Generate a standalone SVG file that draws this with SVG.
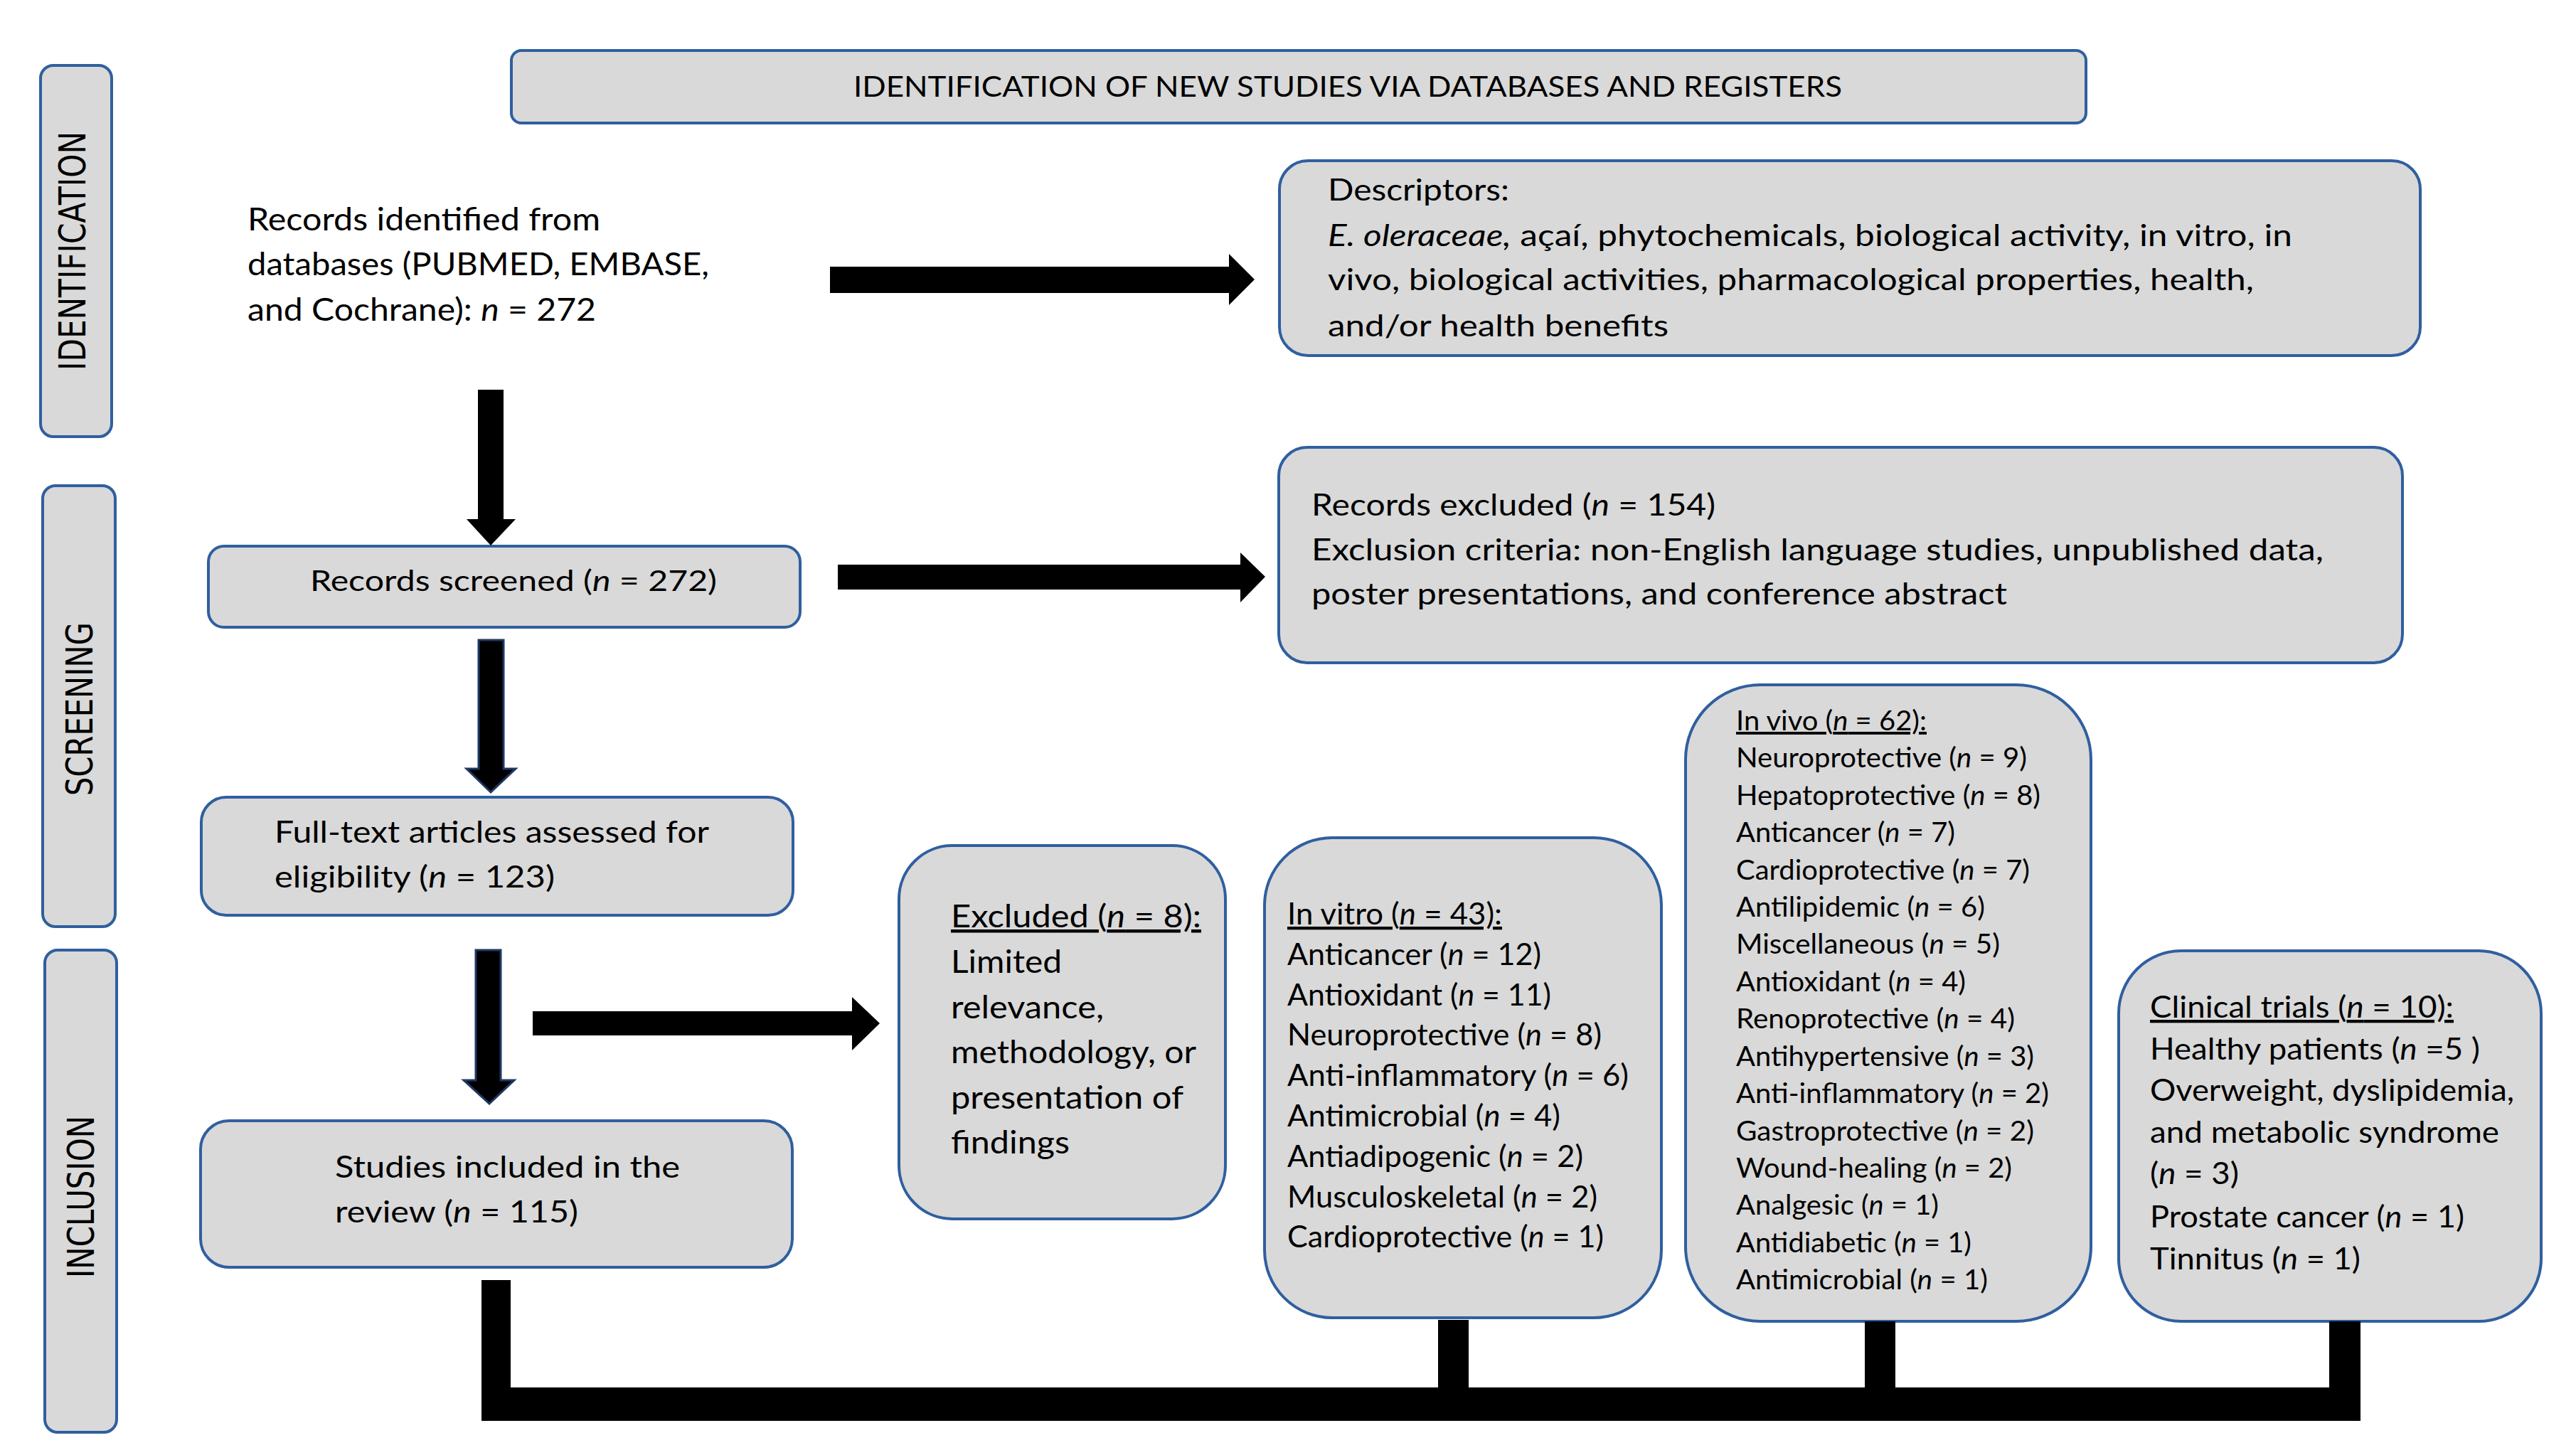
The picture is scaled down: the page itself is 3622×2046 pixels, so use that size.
<svg xmlns="http://www.w3.org/2000/svg" width="3622" height="2046" viewBox="0 0 3622 2046">
<style>
.box{fill:#d9d9d9;stroke:#2f5f9f;stroke-width:4}
text{font-family:Lato,"Liberation Sans",Arial,sans-serif;fill:#000}
.side{font-family:"DejaVu Sans","Liberation Sans",sans-serif;font-size:52px;text-anchor:middle}
.it{font-style:italic}
.ul{text-decoration:underline}
.arr{fill:#000}
.arrb{fill:#000;stroke:#1f3864;stroke-width:3}
</style>
<rect width="3622" height="2046" fill="#fff"/>

<g id="side-identification">
<rect class="box" x="57" y="92" width="100" height="522" rx="18"/>
<text class="side" transform="translate(120,353) rotate(-90)" textLength="336" lengthAdjust="spacingAndGlyphs">IDENTIFICATION</text>
</g>
<g id="side-screening">
<rect class="box" x="60" y="683" width="102" height="620" rx="18"/>
<text class="side" transform="translate(130,997) rotate(-90)" textLength="244" lengthAdjust="spacingAndGlyphs">SCREENING</text>
</g>
<g id="side-inclusion">
<rect class="box" x="63" y="1336" width="101" height="678" rx="18"/>
<text class="side" transform="translate(132,1683) rotate(-90)" textLength="228" lengthAdjust="spacingAndGlyphs">INCLUSION</text>
</g>

<g id="title">
<rect class="box" x="719" y="71" width="2214" height="102" rx="14"/>
<text x="1200" y="136" font-size="40" textLength="1390" lengthAdjust="spacingAndGlyphs">IDENTIFICATION OF NEW STUDIES VIA DATABASES AND REGISTERS</text>
</g>

<g id="records-identified" font-size="44">
<text x="348" y="324" textLength="496" lengthAdjust="spacingAndGlyphs">Records identified from</text>
<text x="348" y="387" textLength="649" lengthAdjust="spacingAndGlyphs">databases (PUBMED, EMBASE,</text>
<text x="348" y="451" textLength="490" lengthAdjust="spacingAndGlyphs">and Cochrane): <tspan class="it">n</tspan> = 272</text>
</g>

<g id="descriptors" font-size="42">
<rect class="box" x="1799" y="226" width="1604" height="274" rx="40"/>
<text x="1867" y="282" textLength="255" lengthAdjust="spacingAndGlyphs">Descriptors:</text>
<text x="1867" y="346" textLength="1356" lengthAdjust="spacingAndGlyphs"><tspan class="it">E. oleraceae,</tspan> açaí, phytochemicals, biological activity, in vitro, in</text>
<text x="1867" y="408" textLength="1302" lengthAdjust="spacingAndGlyphs">vivo, biological activities, pharmacological properties, health,</text>
<text x="1867" y="473" textLength="479" lengthAdjust="spacingAndGlyphs">and/or health benefits</text>
</g>

<g id="records-screened" font-size="41">
<rect class="box" x="293" y="768" width="832" height="114" rx="22"/>
<text x="436" y="831" textLength="572" lengthAdjust="spacingAndGlyphs">Records screened (<tspan class="it">n</tspan> = 272)</text>
</g>

<g id="records-excluded" font-size="42">
<rect class="box" x="1798" y="629" width="1580" height="303" rx="40"/>
<text x="1844" y="725" textLength="568" lengthAdjust="spacingAndGlyphs">Records excluded (<tspan class="it">n</tspan> = 154)</text>
<text x="1844" y="788" textLength="1423" lengthAdjust="spacingAndGlyphs">Exclusion criteria: non-English language studies, unpublished data,</text>
<text x="1844" y="850" textLength="978" lengthAdjust="spacingAndGlyphs">poster presentations, and conference abstract</text>
</g>

<g id="full-text" font-size="42">
<rect class="box" x="283" y="1121" width="832" height="166" rx="35"/>
<text x="386" y="1185" textLength="611" lengthAdjust="spacingAndGlyphs">Full-text articles assessed  for</text>
<text x="386" y="1248" textLength="394" lengthAdjust="spacingAndGlyphs">eligibility (<tspan class="it">n</tspan> = 123)</text>
</g>

<g id="studies-included" font-size="42">
<rect class="box" x="282" y="1576" width="832" height="206" rx="40"/>
<text x="471" y="1656" textLength="485" lengthAdjust="spacingAndGlyphs">Studies included in the</text>
<text x="471" y="1719" textLength="342" lengthAdjust="spacingAndGlyphs">review (<tspan class="it">n</tspan> = 115)</text>
</g>

<g id="excluded-8" font-size="45">
<rect class="box" x="1264" y="1189" width="459" height="525" rx="75"/>
<text class="ul" x="1337" y="1304" textLength="352" lengthAdjust="spacingAndGlyphs">Excluded (<tspan class="it">n</tspan> = 8):</text>
<text x="1337" y="1368" textLength="156" lengthAdjust="spacingAndGlyphs">Limited</text>
<text x="1337" y="1432" textLength="215" lengthAdjust="spacingAndGlyphs">relevance,</text>
<text x="1337" y="1495" textLength="345" lengthAdjust="spacingAndGlyphs">methodology, or</text>
<text x="1337" y="1559" textLength="327" lengthAdjust="spacingAndGlyphs">presentation of</text>
<text x="1337" y="1622" textLength="167" lengthAdjust="spacingAndGlyphs">findings</text>
</g>

<g id="in-vitro" font-size="43">
<rect class="box" x="1778" y="1178" width="558" height="675" rx="95"/>
<text class="ul" x="1810" y="1300" textLength="302" lengthAdjust="spacingAndGlyphs">In vitro (<tspan class="it">n</tspan> = 43):</text>
<text x="1810" y="1357" textLength="357" lengthAdjust="spacingAndGlyphs">Anticancer (<tspan class="it">n</tspan> = 12)</text>
<text x="1810" y="1414" textLength="371" lengthAdjust="spacingAndGlyphs">Antioxidant (<tspan class="it">n</tspan> = 11)</text>
<text x="1810" y="1470" textLength="442" lengthAdjust="spacingAndGlyphs">Neuroprotective (<tspan class="it">n</tspan> = 8)</text>
<text x="1810" y="1527" textLength="480" lengthAdjust="spacingAndGlyphs">Anti-inflammatory (<tspan class="it">n</tspan> = 6)</text>
<text x="1810" y="1584" textLength="384" lengthAdjust="spacingAndGlyphs">Antimicrobial (<tspan class="it">n</tspan> = 4)</text>
<text x="1810" y="1641" textLength="416" lengthAdjust="spacingAndGlyphs">Antiadipogenic (<tspan class="it">n</tspan> = 2)</text>
<text x="1810" y="1698" textLength="436" lengthAdjust="spacingAndGlyphs">Musculoskeletal (<tspan class="it">n</tspan> = 2)</text>
<text x="1810" y="1754" textLength="445" lengthAdjust="spacingAndGlyphs">Cardioprotective (<tspan class="it">n</tspan> = 1)</text>
</g>

<g id="in-vivo" font-size="39">
<rect class="box" x="2370" y="963" width="570" height="895" rx="105"/>
<text class="ul" x="2441" y="1027" textLength="268" lengthAdjust="spacingAndGlyphs">In vivo (<tspan class="it">n</tspan> = 62):</text>
<text x="2441" y="1079" textLength="409" lengthAdjust="spacingAndGlyphs">Neuroprotective (<tspan class="it">n</tspan> = 9)</text>
<text x="2441" y="1132" textLength="428" lengthAdjust="spacingAndGlyphs">Hepatoprotective (<tspan class="it">n</tspan> = 8)</text>
<text x="2441" y="1184" textLength="308" lengthAdjust="spacingAndGlyphs">Anticancer (<tspan class="it">n</tspan> = 7)</text>
<text x="2441" y="1237" textLength="413" lengthAdjust="spacingAndGlyphs">Cardioprotective (<tspan class="it">n</tspan> = 7)</text>
<text x="2441" y="1289" textLength="350" lengthAdjust="spacingAndGlyphs">Antilipidemic (<tspan class="it">n</tspan> = 6)</text>
<text x="2441" y="1341" textLength="371" lengthAdjust="spacingAndGlyphs">Miscellaneous (<tspan class="it">n</tspan> = 5)</text>
<text x="2441" y="1394" textLength="323" lengthAdjust="spacingAndGlyphs">Antioxidant (<tspan class="it">n</tspan> = 4)</text>
<text x="2441" y="1446" textLength="392" lengthAdjust="spacingAndGlyphs">Renoprotective (<tspan class="it">n</tspan> = 4)</text>
<text x="2441" y="1499" textLength="419" lengthAdjust="spacingAndGlyphs">Antihypertensive (<tspan class="it">n</tspan> = 3)</text>
<text x="2441" y="1551" textLength="440" lengthAdjust="spacingAndGlyphs">Anti-inflammatory (<tspan class="it">n</tspan> = 2)</text>
<text x="2441" y="1604" textLength="419" lengthAdjust="spacingAndGlyphs">Gastroprotective (<tspan class="it">n</tspan> = 2)</text>
<text x="2441" y="1656" textLength="388" lengthAdjust="spacingAndGlyphs">Wound-healing (<tspan class="it">n</tspan> = 2)</text>
<text x="2441" y="1708" textLength="285" lengthAdjust="spacingAndGlyphs">Analgesic (<tspan class="it">n</tspan> = 1)</text>
<text x="2441" y="1761" textLength="331" lengthAdjust="spacingAndGlyphs">Antidiabetic (<tspan class="it">n</tspan> = 1)</text>
<text x="2441" y="1813" textLength="354" lengthAdjust="spacingAndGlyphs">Antimicrobial (<tspan class="it">n</tspan> = 1)</text>
</g>

<g id="clinical-trials" font-size="43">
<rect class="box" x="2979" y="1337" width="594" height="521" rx="88"/>
<text class="ul" x="3023" y="1431" textLength="427" lengthAdjust="spacingAndGlyphs">Clinical trials (<tspan class="it">n</tspan> = 10):</text>
<text x="3023" y="1490" textLength="464" lengthAdjust="spacingAndGlyphs">Healthy patients (<tspan class="it">n</tspan> =5 )</text>
<text x="3023" y="1548" textLength="512" lengthAdjust="spacingAndGlyphs">Overweight, dyslipidemia,</text>
<text x="3023" y="1607" textLength="491" lengthAdjust="spacingAndGlyphs">and metabolic syndrome</text>
<text x="3023" y="1665" textLength="125" lengthAdjust="spacingAndGlyphs">(<tspan class="it">n</tspan> = 3)</text>
<text x="3023" y="1726" textLength="442" lengthAdjust="spacingAndGlyphs">Prostate cancer (<tspan class="it">n</tspan> = 1)</text>
<text x="3023" y="1785" textLength="296" lengthAdjust="spacingAndGlyphs">Tinnitus (<tspan class="it">n</tspan> = 1)</text>
</g>

<g id="connectors">
<polygon class="arr" points="1167,375 1728,375 1728,357 1764,393 1728,429 1728,412 1167,412"/>
<polygon class="arr" points="1178,794 1744,794 1744,777 1779,811 1744,847 1744,829 1178,829"/>
<polygon class="arr" points="749,1422 1198,1422 1198,1402 1237,1439 1198,1477 1198,1456 749,1456"/>
<polygon class="arr" points="672,548 708,548 708,730 725,730 690,767 656,730 672,730"/>
<polygon class="arrb" points="673,900 708,900 708,1081 725,1081 690,1114 656,1081 673,1081"/>
<polygon class="arrb" points="669,1336 704,1336 704,1519 723,1519 688,1552 652,1519 669,1519"/>
<path class="arr" d="M677,1800 H718 V1951 H2022 V1856 H2065 V1951 H2622 V1858 H2665 V1951 H3275 V1858 H3319 V1998 H677 Z"/>
</g>
</svg>
